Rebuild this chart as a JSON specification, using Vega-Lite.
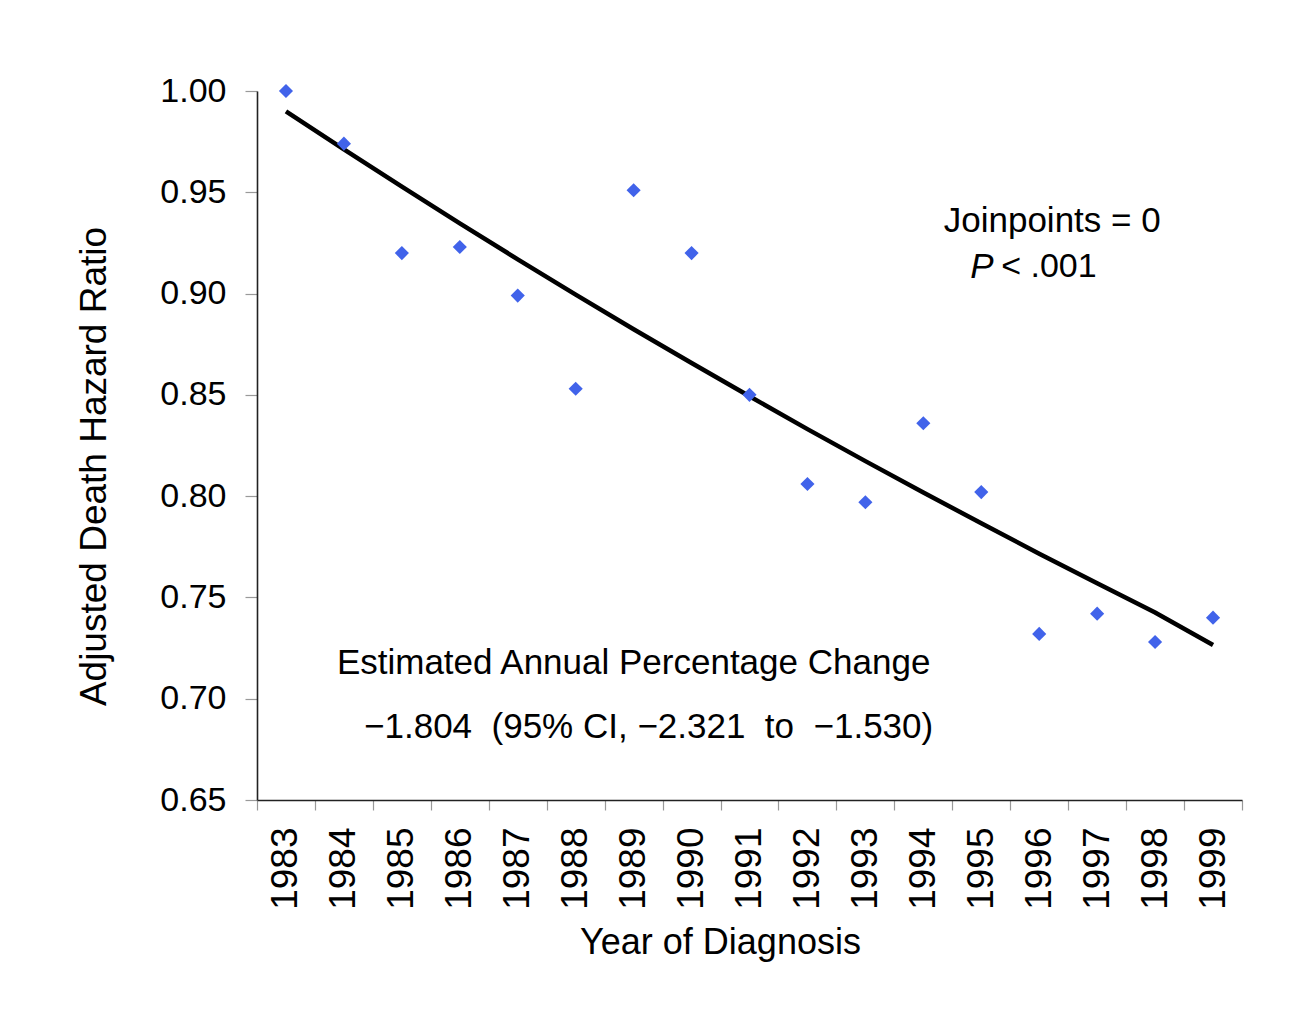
{
  "$schema": "https://vega.github.io/schema/vega-lite/v6.json",
  "autosize": {"type": "none"},
  "width": 985,
  "height": 709,
  "padding": {"left": 257, "top": 91, "right": 63, "bottom": 227},
  "background": "white",
  "config": {
    "view": {"stroke": null},
    "font": "Liberation Sans",
    "axis": {
      "labelFont": "Liberation Sans",
      "titleFont": "Liberation Sans",
      "labelColor": "black",
      "titleColor": "black",
      "titleFontWeight": "normal",
      "labelFontSize": 34,
      "titleFontSize": 36,
      "domainColor": "#222222",
      "domainWidth": 1.6,
      "tickColor": "#999999",
      "tickWidth": 1.2,
      "grid": false
    },
    "text": {"font": "Liberation Sans", "fontSize": 35, "color": "black"}
  },
  "datasets": {
    "observed": [
      {"year": "1983", "ratio": 1.000},
      {"year": "1984", "ratio": 0.974},
      {"year": "1985", "ratio": 0.920},
      {"year": "1986", "ratio": 0.923},
      {"year": "1987", "ratio": 0.899},
      {"year": "1988", "ratio": 0.853},
      {"year": "1989", "ratio": 0.951},
      {"year": "1990", "ratio": 0.920},
      {"year": "1991", "ratio": 0.850},
      {"year": "1992", "ratio": 0.806},
      {"year": "1993", "ratio": 0.797},
      {"year": "1994", "ratio": 0.836},
      {"year": "1995", "ratio": 0.802},
      {"year": "1996", "ratio": 0.732},
      {"year": "1997", "ratio": 0.742},
      {"year": "1998", "ratio": 0.728},
      {"year": "1999", "ratio": 0.740}
    ],
    "fitted": [
      {"year": "1983", "ratio": 0.9900},
      {"year": "1984", "ratio": 0.9712},
      {"year": "1985", "ratio": 0.9528},
      {"year": "1986", "ratio": 0.9347},
      {"year": "1987", "ratio": 0.9169},
      {"year": "1988", "ratio": 0.8995},
      {"year": "1989", "ratio": 0.8824},
      {"year": "1990", "ratio": 0.8657},
      {"year": "1991", "ratio": 0.8493},
      {"year": "1992", "ratio": 0.8331},
      {"year": "1993", "ratio": 0.8173},
      {"year": "1994", "ratio": 0.8018},
      {"year": "1995", "ratio": 0.7866},
      {"year": "1996", "ratio": 0.7716},
      {"year": "1997", "ratio": 0.7570},
      {"year": "1998", "ratio": 0.7426},
      {"year": "1999", "ratio": 0.7265}
    ],
    "one": [{}]
  },
  "layer": [
    {
      "data": {"name": "fitted"},
      "mark": {"type": "line", "color": "black", "strokeWidth": 4.5},
      "encoding": {
        "x": {
          "field": "year",
          "type": "ordinal",
          "scale": {"type": "band", "paddingInner": 0, "paddingOuter": 0},
          "axis": {
            "title": "Year of Diagnosis",
            "labelAngle": -90,
            "labelFontSize": 37,
            "tickBand": "extent",
            "tickSize": 10,
            "labelPadding": 17,
            "titlePadding": 16,
            "titleX": 463
          }
        },
        "y": {
          "field": "ratio",
          "type": "quantitative",
          "scale": {"domain": [0.65, 1.0], "zero": false, "nice": false},
          "axis": {
            "title": "Adjusted Death Hazard Ratio",
            "values": [0.65, 0.7, 0.75, 0.8, 0.85, 0.9, 0.95, 1.0],
            "format": ".2f",
            "tickSize": 12,
            "labelPadding": 19,
            "titlePadding": 46,
            "titleFontSize": 37,
            "titleY": 375
          }
        }
      }
    },
    {
      "data": {"name": "observed"},
      "mark": {"type": "point", "shape": "diamond", "filled": true, "color": "#4163EA", "size": 200, "opacity": 1},
      "encoding": {
        "x": {"field": "year", "type": "ordinal"},
        "y": {"field": "ratio", "type": "quantitative"}
      }
    },
    {
      "data": {"name": "one"},
      "mark": {"type": "text", "align": "center", "baseline": "middle", "dx": 13},
      "encoding": {
        "x": {"datum": "1996", "type": "ordinal"},
        "y": {"datum": 0.9358, "type": "quantitative"},
        "text": {"value": "Joinpoints = 0"}
      }
    },
    {
      "data": {"name": "one"},
      "mark": {"type": "text", "fontStyle": "italic", "align": "left", "baseline": "middle", "dx": -69},
      "encoding": {
        "x": {"datum": "1996", "type": "ordinal"},
        "y": {"datum": 0.9131, "type": "quantitative"},
        "text": {"value": "P"}
      }
    },
    {
      "data": {"name": "one"},
      "mark": {"type": "text", "align": "left", "baseline": "middle", "dx": -38, "fontSize": 34},
      "encoding": {
        "x": {"datum": "1996", "type": "ordinal"},
        "y": {"datum": 0.9131, "type": "quantitative"},
        "text": {"value": "< .001"}
      }
    },
    {
      "data": {"name": "one"},
      "mark": {"type": "text", "align": "center", "baseline": "middle", "dx": 0},
      "encoding": {
        "x": {"datum": "1989", "type": "ordinal"},
        "y": {"datum": 0.7176, "type": "quantitative"},
        "text": {"value": "Estimated Annual Percentage Change"}
      }
    },
    {
      "data": {"name": "one"},
      "mark": {"type": "text", "align": "center", "baseline": "middle", "dx": 15},
      "encoding": {
        "x": {"datum": "1989", "type": "ordinal"},
        "y": {"datum": 0.686, "type": "quantitative"},
        "text": {"value": "−1.804\u00a0\u00a0(95% CI, −2.321\u00a0 to\u00a0 −1.530)"}
      }
    }
  ]
}
